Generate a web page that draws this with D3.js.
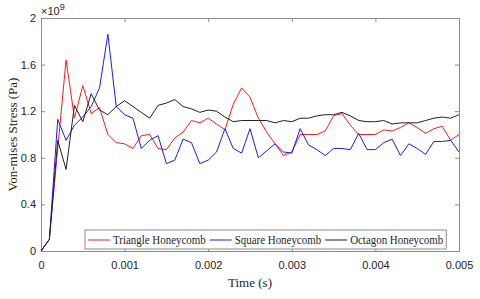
<!DOCTYPE html>
<html>
<head>
<meta charset="utf-8">
<script src="https://cdn.jsdelivr.net/npm/d3@7"></script>
<style>
  body { margin: 0; background: #fff; }
  .tick text { font-family: "Liberation Sans", Arial, sans-serif; font-size: 11px; fill: #262626; }
  .axis path, .axis line { stroke: #8c8c8c; }
  .label { font-family: "Liberation Serif", "Times New Roman", serif; font-size: 13px; fill: #262626; }
  .legend text { font-family: "Liberation Serif", "Times New Roman", serif; font-size: 13px; fill: #262626; }
</style>
</head>
<body>
<div id="chart"></div>
<script>
// Time steps (s) and stress series (x1e9 Pa).
const time = d3.range(51).map((i) => i * 0.0001);

const triangle = [0, 0.1, 0.88, 1.64, 1.14, 1.42, 1.18, 1.23, 1.00, 0.93,
  0.92, 0.88, 0.99, 1.00, 0.88, 0.87, 0.97, 1.02, 1.12, 1.10,
  1.14, 1.09, 1.04, 1.26, 1.40, 1.32, 1.14, 1.02, 0.92, 0.82,
  0.85, 1.00, 1.00, 1.00, 1.03, 1.16, 1.18, 1.08, 1.00, 1.00,
  1.00, 1.04, 1.03, 1.06, 1.10, 1.06, 1.01, 1.05, 1.07, 0.95, 1.00];

const square = [0, 0.1, 1.13, 0.95, 1.08, 1.15, 1.24, 1.40, 1.86, 1.24,
  1.17, 1.14, 0.88, 0.95, 0.99, 0.75, 0.78, 0.96, 0.93, 0.75,
  0.78, 0.85, 1.05, 0.88, 0.84, 1.05, 0.80, 0.86, 0.92, 0.85,
  0.84, 1.05, 0.91, 0.87, 0.82, 0.88, 0.88, 0.87, 1.01, 0.87,
  0.87, 0.93, 0.96, 0.82, 0.92, 0.88, 0.83, 0.94, 0.94, 0.95, 0.85];

const octagon = [0, 0.1, 0.95, 0.70, 1.25, 1.11, 1.35, 1.21, 1.17, 1.24,
  1.29, 1.24, 1.19, 1.14, 1.25, 1.27, 1.30, 1.24, 1.22, 1.19,
  1.21, 1.20, 1.15, 1.11, 1.12, 1.12, 1.12, 1.12, 1.10, 1.12,
  1.11, 1.14, 1.14, 1.16, 1.17, 1.17, 1.19, 1.16, 1.12, 1.11,
  1.11, 1.12, 1.09, 1.10, 1.10, 1.10, 1.12, 1.14, 1.15, 1.14, 1.17];

const seriesNames = ["Triangle Honeycomb", "Square Honeycomb", "Octagon Honeycomb"];
const seriesColors = ["#ff1a1a", "#1a1aff", "#202020"];
const xTicks = [0, 0.001, 0.002, 0.003, 0.004, 0.005];
const yTicks = [0, 0.4, 0.8, 1.2, 1.6, 2];

const series = [triangle, square, octagon].map((values, k) => ({
  name: seriesNames[k],
  color: seriesColors[k],
  points: values.map((v, i) => ({ t: time[i], v: v }))
}));

// Layout.
const width = 480;
const height = 299;
const margin = { top: 18, right: 21, bottom: 48, left: 41 };
const innerW = width - margin.left - margin.right;
const innerH = height - margin.top - margin.bottom;

const svg = d3.select("#chart").append("svg")
  .attr("width", width)
  .attr("height", height);

const g = svg.append("g")
  .attr("transform", `translate(${margin.left},${margin.top})`);

const xScale = d3.scaleLinear().domain([0, 0.005]).range([0, innerW]);
const yScale = d3.scaleLinear().domain([0, 2]).range([innerH, 0]);

// Axes, ticks pointing inward on all four sides.
g.append("g")
  .attr("class", "axis")
  .attr("transform", `translate(0,${innerH})`)
  .call(d3.axisBottom(xScale).tickValues(xTicks).tickFormat(d3.format("")).tickSizeInner(-4).tickSizeOuter(0).tickPadding(10));

g.append("g")
  .attr("class", "axis")
  .call(d3.axisTop(xScale).tickValues(xTicks).tickFormat("").tickSizeInner(-4).tickSizeOuter(0));

g.append("g")
  .attr("class", "axis")
  .call(d3.axisLeft(yScale).tickValues(yTicks).tickFormat(d3.format("")).tickSizeInner(-4).tickSizeOuter(0).tickPadding(5));

g.append("g")
  .attr("class", "axis")
  .attr("transform", `translate(${innerW},0)`)
  .call(d3.axisRight(yScale).tickValues(yTicks).tickFormat("").tickSizeInner(-4).tickSizeOuter(0));

// Lines.
const line = d3.line()
  .x((d) => xScale(d.t))
  .y((d) => yScale(d.v));

g.selectAll("path.series")
  .data(series)
  .enter()
  .append("path")
  .attr("class", "series")
  .attr("fill", "none")
  .attr("stroke", (d) => d.color)
  .attr("stroke-width", 1)
  .attr("d", (d) => line(d.points));

// Exponent label.
const expo = svg.append("text")
  .attr("x", margin.left)
  .attr("y", 15)
  .style("font-family", "\"Liberation Sans\", Arial, sans-serif")
  .style("font-size", "11px")
  .attr("fill", "#262626");
expo.append("tspan").text("\u00d710");
expo.append("tspan").attr("dy", -5).style("font-size", "9px").text("9");

// Axis labels.
svg.append("text")
  .attr("class", "label")
  .attr("text-anchor", "middle")
  .attr("x", margin.left + innerW / 2)
  .attr("y", 287)
  .text("Time (s)");

svg.append("text")
  .attr("class", "label")
  .attr("text-anchor", "middle")
  .attr("transform", `translate(17,${margin.top + innerH / 2})rotate(-90)`)
  .text("Von-mises Stress (Pa)");

// Legend (text squeezed horizontally like the original's narrow serif).
const legend = g.append("g").attr("class", "legend")
  .attr("transform", `translate(${85 - margin.left},${230 - margin.top})`);

const legendBox = legend.append("rect")
  .attr("fill", "#fff")
  .attr("stroke", "#8c8c8c")
  .attr("stroke-width", 1)
  .attr("height", 19);

let cursor = 3;
series.forEach((s) => {
  legend.append("line")
    .attr("x1", cursor).attr("x2", cursor + 22)
    .attr("y1", 10).attr("y2", 10)
    .attr("stroke", s.color).attr("stroke-width", 1);
  const t = legend.append("text")
    .attr("x", cursor + 25)
    .attr("y", 14)
    .text(s.name);
  const w = t.node().getComputedTextLength() * 0.84;
  t.attr("textLength", w).attr("lengthAdjust", "spacingAndGlyphs");
  cursor += 25 + w + 4;
});
legendBox.attr("width", cursor - 1);
</script>
</body>
</html>
